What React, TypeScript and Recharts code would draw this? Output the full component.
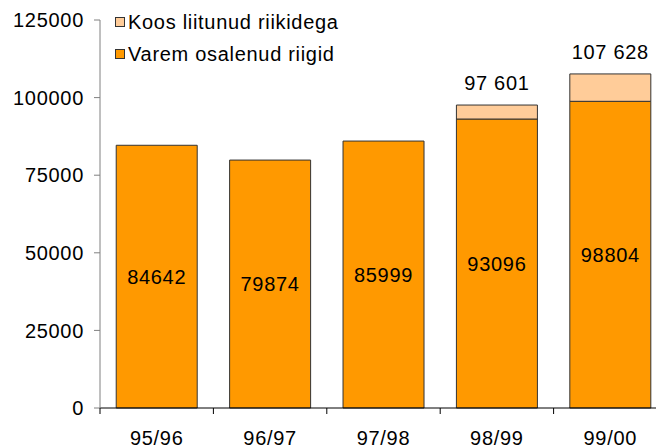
import React from 'react';
import { BarChart, Bar, XAxis, YAxis, Legend, LabelList } from 'recharts';

// hooajad (x-telg)
const seasons = ['95/96', '96/97', '97/98', '98/99', '99/00'];
// varem osalenud riigid
const earlier = [84642, 79874, 85999, 93096, 98804];
// lisandunud liitunud riikidega (97 601 ja 107 628 kokku)
const joined = [null, null, null, 4505, 8824];
const yTicks = [0, 25000, 50000, 75000, 100000, 125000];

const CHART_W = 659;
const CHART_H = 440;
const Y_W = 92;
const FONT = '"Liberation Sans", Arial, sans-serif';
const FS = 20;
const SPACING = 0.7;

const ORANGE = '#FF9900';
const PEACH = '#FFCC99';
const OUTLINE = '#333333';

const data = seasons.map((s, i) => ({
  season: s,
  earlier: earlier[i],
  joined: joined[i],
  total: joined[i] != null ? earlier[i] + (joined[i] as number) : null,
}));

const legendItems = [
  { name: 'Koos liitunud riikidega', color: PEACH },
  { name: 'Varem osalenud riigid', color: ORANGE },
];

const band = (CHART_W - Y_W) / seasons.length;

const SeasonTick = (props: any) => {
  const { x, y, payload, index } = props;
  const axisY = y - 6;
  return (
    <g>
      {index === 0 && (
        <line x1={x - band / 2} x2={x - band / 2} y1={axisY} y2={axisY + 6} stroke="#000" />
      )}
      <line x1={x + band / 2} x2={x + band / 2} y1={axisY} y2={axisY + 6} stroke="#000" />
      <text
        x={x}
        y={axisY + 37}
        textAnchor="middle"
        fontFamily={FONT}
        fontSize={FS}
        letterSpacing={SPACING}
        fill="#000"
      >
        {payload.value}
      </text>
    </g>
  );
};

const fmt = (v: number) => v.toString().replace(/\B(?=(\d{3})+(?!\d))/g, ' ');

const TotalLabel = (props: any) => {
  const vb = props.viewBox || {};
  const x = vb.x ?? props.x;
  const y = vb.y ?? props.y;
  const width = vb.width ?? props.width;
  const t = props.value;
  if (t == null || x == null) return null;
  return (
    <text
      x={x + width / 2}
      y={y - 15}
      textAnchor="middle"
      fontFamily={FONT}
      fontSize={FS}
      letterSpacing={SPACING}
      fill="#000"
    >
      {fmt(Number(t))}
    </text>
  );
};

const LegendBox = () => (
  <div style={{ fontFamily: FONT, fontSize: FS, letterSpacing: SPACING, color: '#000' }}>
    {legendItems.map((it) => (
      <div key={it.name} style={{ display: 'flex', alignItems: 'center', height: 32, whiteSpace: 'nowrap' }}>
        <span
          style={{
            display: 'inline-block',
            width: 10,
            height: 10,
            boxSizing: 'border-box',
            background: it.color,
            border: `1px solid ${OUTLINE}`,
            marginRight: 3,
          }}
        />
        <span>{it.name}</span>
      </div>
    ))}
  </div>
);

export default function App() {
  return (
    <div style={{ width: 656, height: CHART_H, overflow: 'hidden', background: '#fff' }}>
      <BarChart
        width={CHART_W}
        height={CHART_H}
        data={data}
        margin={{ top: 12, right: 0, bottom: 0, left: 0 }}
        barCategoryGap="14.3%"
      >
        <XAxis
          dataKey="season"
          height={40}
          axisLine={{ stroke: '#000' }}
          tickLine={false}
          tickSize={6}
          tickMargin={0}
          interval={0}
          tick={<SeasonTick />}
        />
        <YAxis
          width={Y_W}
          domain={[0, 125000]}
          ticks={yTicks}
          interval={0}
          axisLine={{ stroke: '#808080' }}
          tickLine={{ stroke: '#808080' }}
          tickSize={6}
          tickMargin={10}
          tick={{ fontFamily: FONT, fontSize: FS, fill: '#000', letterSpacing: SPACING }}
        />
        <Legend
          layout="vertical"
          align="center"
          verticalAlign="middle"
          content={<LegendBox />}
          wrapperStyle={{ top: -2, left: 107, width: 'auto', height: 'auto' }}
        />
        <Bar
          dataKey="earlier"
          name="Varem osalenud riigid"
          stackId="a"
          fill={ORANGE}
          stroke={OUTLINE}
          strokeWidth={1}
          isAnimationActive={false}
        >
          <LabelList
            dataKey="earlier"
            position="center"
            fontFamily={FONT}
            fontSize={FS}
            letterSpacing={SPACING}
            fill="#000"
          />
        </Bar>
        <Bar
          dataKey="joined"
          name="Koos liitunud riikidega"
          stackId="a"
          fill={PEACH}
          stroke={OUTLINE}
          strokeWidth={1}
          isAnimationActive={false}
        >
          <LabelList dataKey="total" content={<TotalLabel />} />
        </Bar>
      </BarChart>
    </div>
  );
}
